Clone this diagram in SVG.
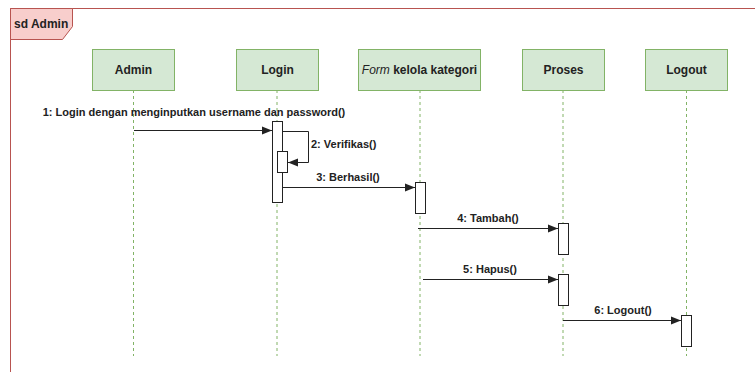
<svg xmlns="http://www.w3.org/2000/svg" width="755" height="372" viewBox="0 0 755 372">
  <defs>
    <style>
      text { font-family: "Liberation Sans", Arial, sans-serif; font-weight: bold; fill: #222; }
      .head rect { fill: #d5e8d4; stroke: #82b366; stroke-width: 1; }
      .head text { font-size: 12px; text-anchor: middle; }
      .life { stroke: #82b366; stroke-width: 1; stroke-dasharray: 3 3; fill: none; }
      .head rect.act { fill: #fff; stroke: #222; stroke-width: 1; }
      .msg { stroke: #222; stroke-width: 1; fill: none; marker-end: url(#arrow); }
      .lbl { font-size: 11px; text-anchor: middle; }
    </style>
    <marker id="arrow" viewBox="0 0 10 10" refX="10" refY="5" markerWidth="10" markerHeight="10" markerUnits="userSpaceOnUse" orient="auto">
      <path d="M0,1 L10,5 L0,9 Z" fill="#222"/>
    </marker>
  </defs>

  <rect width="755" height="372" fill="#fff"/>

  <!-- sequence frame -->
  <g id="frame">
    <rect x="10.5" y="8.5" width="760" height="380" fill="none" stroke="#b85450" stroke-width="1"/>
    <path d="M10.5,8.5 H72.5 V26.5 L62.5,39.5 H10.5 Z" fill="#f8cecc" stroke="#b85450" stroke-width="1"/>
    <text x="14" y="28" font-size="12" style="fill:#222">sd Admin</text>
  </g>

  <!-- lifelines -->
  <g id="admin" class="head">
    <line class="life" x1="133.5" y1="90" x2="133.5" y2="356"/>
    <rect x="92.5" y="49.5" width="82" height="41"/>
    <text x="133.5" y="74">Admin</text>
  </g>
  <g id="login" class="head">
    <line class="life" x1="277" y1="90" x2="277" y2="356"/>
    <rect x="236.5" y="49.5" width="82" height="41"/>
    <text x="277.5" y="74">Login</text>
    <rect class="act" x="272.5" y="121.5" width="10" height="81"/>
    <rect class="act" x="277.5" y="151.5" width="10" height="21"/>
  </g>
  <g id="form" class="head">
    <line class="life" x1="420" y1="90" x2="420" y2="356"/>
    <rect x="358.5" y="49.5" width="122" height="41"/>
    <text x="419.5" y="74"><tspan font-style="italic" font-weight="normal">Form</tspan> kelola kategori</text>
    <rect class="act" x="415.5" y="182.5" width="10" height="31"/>
  </g>
  <g id="proses" class="head">
    <line class="life" x1="563" y1="90" x2="563" y2="356"/>
    <rect x="522.5" y="49.5" width="82" height="41"/>
    <text x="563.5" y="74">Proses</text>
    <rect class="act" x="558.5" y="223.5" width="10" height="31"/>
    <rect class="act" x="558.5" y="274.5" width="10" height="31"/>
  </g>
  <g id="logout" class="head">
    <line class="life" x1="686.5" y1="90" x2="686.5" y2="356"/>
    <rect x="645.5" y="49.5" width="82" height="41"/>
    <text x="686.5" y="74">Logout</text>
    <rect class="act" x="681.5" y="315.5" width="10" height="31"/>
  </g>

  <!-- messages -->
  <g id="messages">
    <line class="msg" x1="134" y1="130.5" x2="272" y2="130.5"/>
    <text class="lbl" x="194" y="116">1: Login dengan menginputkan username dan password()</text>

    <path class="msg" d="M282.5,131.5 H308.5 V162.5 H288"/>
    <text class="lbl" x="311" y="148" style="text-anchor:start">2: Verifikas()</text>

    <line class="msg" x1="282.5" y1="187.5" x2="415" y2="187.5"/>
    <text class="lbl" x="348" y="181">3: Berhasil()</text>

    <line class="msg" x1="418" y1="228.5" x2="558" y2="228.5"/>
    <text class="lbl" x="488" y="222">4: Tambah()</text>

    <line class="msg" x1="423" y1="279.5" x2="558" y2="279.5"/>
    <text class="lbl" x="490" y="273">5: Hapus()</text>

    <line class="msg" x1="563" y1="320.5" x2="681" y2="320.5"/>
    <text class="lbl" x="623" y="314">6: Logout()</text>
  </g>
</svg>
